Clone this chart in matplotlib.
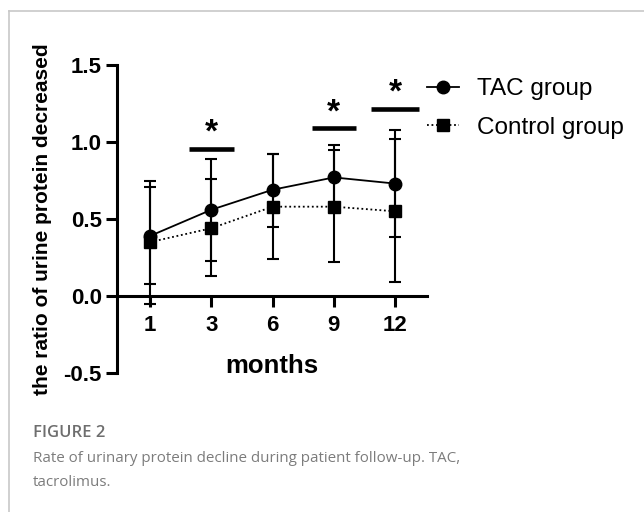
import numpy as np
import matplotlib
matplotlib.use("Agg")
import matplotlib.pyplot as plt
from matplotlib.lines import Line2D

plt.rcParams['font.family'] = ['Liberation Sans', 'DejaVu Sans']

months = ['1', '3', '6', '9', '12']
tac_mean = [0.39, 0.56, 0.69, 0.77, 0.73]
tac_low = [0.08, 0.23, 0.45, 0.56, 0.38]
tac_high = [0.75, 0.89, 0.92, 0.98, 1.08]
ctrl_mean = [0.35, 0.44, 0.58, 0.58, 0.55]
ctrl_low = [-0.05, 0.13, 0.24, 0.22, 0.09]
ctrl_high = [0.71, 0.76, 0.92, 0.95, 1.02]

# significance markers: month index, bar height, bar half width
sig_idx = [1, 3, 4]
sig_y = [0.955, 1.089, 1.216]
sig_half = [0.37, 0.36, 0.39]

x = np.arange(len(months))
tac_mean = np.array(tac_mean)
ctrl_mean = np.array(ctrl_mean)

fig = plt.figure(figsize=(6.44, 5.12), dpi=100)
ax = fig.add_axes([117/644, (512-373)/512, 310/644, 308/512])

ax.errorbar(x, tac_mean, yerr=[tac_mean - np.array(tac_low), np.array(tac_high) - tac_mean],
            fmt='none', ecolor='black', elinewidth=1.5, capsize=4.5, capthick=1.5, zorder=2)
ax.errorbar(x, ctrl_mean, yerr=[ctrl_mean - np.array(ctrl_low), np.array(ctrl_high) - ctrl_mean],
            fmt='none', ecolor='black', elinewidth=1.5, capsize=4.5, capthick=1.5, zorder=2)

ax.plot(x, ctrl_mean, color='black', ls=(0, (1, 1.5)), lw=1.3, marker='s', ms=9,
        label='Control group', zorder=3)
ax.plot(x, tac_mean, color='black', ls='-', lw=1.3, marker='o', ms=9,
        label='TAC group', zorder=4)

for i, yy, hw in zip(sig_idx, sig_y, sig_half):
    ax.plot([i - hw, i + hw], [yy, yy], color='black', lw=3.3, solid_capstyle='butt', zorder=3)
    ax.text(i, yy + 0.10, '*', ha='center', va='center', fontsize=24, fontweight='bold')

ax.set_xlim(-0.54, 4.52)
ax.set_ylim(-0.5, 1.5)
ax.set_yticks([-0.5, 0.0, 0.5, 1.0, 1.5])
ax.set_yticklabels(['-0.5', '0.0', '0.5', '1.0', '1.5'])
ax.set_xticks(x)
ax.set_xticklabels(months)

ax.spines['top'].set_visible(False)
ax.spines['right'].set_visible(False)
ax.spines['bottom'].set_position(('data', 0))
for s in ['left', 'bottom']:
    ax.spines[s].set_linewidth(2.2)
ax.tick_params(axis='both', width=2.2, length=8, labelsize=16, direction='out')
ax.tick_params(axis='y', pad=3)
ax.tick_params(axis='x', pad=6)
for lab in ax.get_xticklabels() + ax.get_yticklabels():
    lab.set_fontweight('bold')
ax.patch.set_visible(False)

fig.text(43/644, 1 - 219/512, 'the ratio of urine protein decreased', rotation=90,
         ha='center', va='center', fontsize=15, fontweight='bold')
fig.text(272/644, 1 - 366/512, 'months', ha='center', va='center', fontsize=18.5, fontweight='bold')

handles, labels = ax.get_legend_handles_labels()
ax.legend(handles[::-1], labels[::-1], loc='upper left', bbox_to_anchor=(427/644, 1 - 78/512),
          bbox_transform=fig.transFigure, frameon=False, fontsize=17.5, handlelength=1.3,
          handletextpad=0.75, labelspacing=0.68, borderpad=0, borderaxespad=0)

# caption
fig.text(33/644, 1 - 433/512, 'FIGURE 2', fontsize=12, color='#6e6e6e', fontweight='semibold',
         family=['Open Sans', 'DejaVu Sans'], ha='left', va='center')
fig.text(33/644, 1 - 458/512, 'Rate of urinary protein decline during patient follow-up. TAC,',
         fontsize=10.9, color='#7c7c7c', family=['Open Sans', 'DejaVu Sans'], ha='left', va='center')
fig.text(33/644, 1 - 482/512, 'tacrolimus.',
         fontsize=10.9, color='#7c7c7c', family=['Open Sans', 'DejaVu Sans'], ha='left', va='center')

# page frame
fig.add_artist(Line2D([9/644, 9/644], [0, 1 - 11/512], color='#c8c8c8', lw=1.2,
                      transform=fig.transFigure))
fig.add_artist(Line2D([9/644, 1], [1 - 11/512, 1 - 11/512], color='#c8c8c8', lw=1.2,
                      transform=fig.transFigure))

fig.savefig('out.png', dpi=100)
